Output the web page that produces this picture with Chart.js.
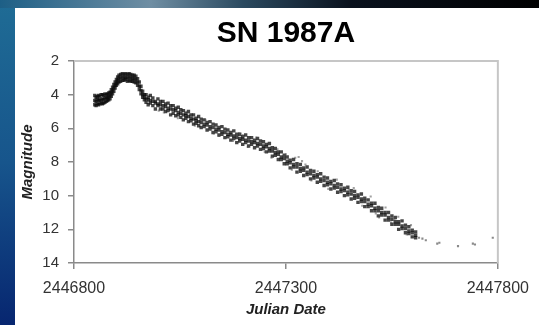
<!DOCTYPE html>
<html>
<head>
<meta charset="utf-8">
<title>SN 1987A</title>
<script src="https://cdn.jsdelivr.net/npm/chart.js@4.4.1/dist/chart.umd.min.js"></script>
<style>
    html, body { margin: 0; padding: 0; background: #0a2a6a; overflow: hidden; }
    #wrap { width: 539px; height: 325px; }
</style>
</head>
<body>
<div id="wrap"><canvas id="sn-chart" width="539" height="325"></canvas></div>
<script>
// Light curve of SN 1987A
var xTickValues = [2446800, 2447300, 2447800];

// main band: each epoch has an upper, middle and lower edge of the scatter
var epochJd = [
    2446849, 2446852, 2446855, 2446858, 2446861, 2446864, 2446867, 2446870, 2446873, 2446876,
    2446879, 2446882, 2446885, 2446888, 2446891, 2446894, 2446897, 2446900, 2446903, 2446906,
    2446910, 2446914, 2446918, 2446922, 2446926, 2446930, 2446934, 2446938, 2446942, 2446946,
    2446950, 2446954, 2446958, 2446962, 2446966, 2446970, 2446975, 2446980, 2446986, 2446992,
    2446998, 2447004, 2447010, 2447016, 2447022, 2447028, 2447034, 2447040, 2447046, 2447052,
    2447058, 2447064, 2447070, 2447076, 2447082, 2447088, 2447094, 2447100, 2447107, 2447114,
    2447121, 2447128, 2447135, 2447142, 2447149, 2447156, 2447163, 2447170, 2447177, 2447184,
    2447191, 2447198, 2447205, 2447212, 2447219, 2447226, 2447233, 2447240, 2447247, 2447254,
    2447261, 2447268, 2447275, 2447282, 2447289, 2447296, 2447303, 2447310, 2447318, 2447326,
    2447334, 2447342, 2447350, 2447358, 2447366, 2447374, 2447382, 2447390, 2447398, 2447406,
    2447414, 2447422, 2447430, 2447438, 2447446, 2447454, 2447462, 2447470, 2447478, 2447486,
    2447494, 2447502, 2447510, 2447518, 2447526, 2447534, 2447542, 2447550, 2447558, 2447566,
    2447574, 2447582, 2447590, 2447598, 2447606
];
var magBright = [
    4.05, 4.15, 4.1, 4.05, 4.1, 4.0, 4.0, 4.05, 3.95, 4.0,
    3.95, 3.9, 3.85, 3.7, 3.55, 3.4, 3.25, 3.1, 2.95, 2.85,
    2.8, 2.75, 2.8, 2.75, 2.8, 2.75, 2.8, 2.85, 2.85, 2.9,
    3.05, 3.25, 3.5, 3.8, 4.0, 4.0, 4.15, 4.05, 4.2, 4.4,
    4.25, 4.4, 4.4, 4.55, 4.5, 4.65, 4.65, 4.8, 4.75, 4.9,
    4.95, 5.1, 5.0, 5.2, 5.2, 5.4, 5.3, 5.45, 5.5, 5.65,
    5.6, 5.75, 5.8, 5.95, 5.9, 6.05, 6.1, 6.25, 6.15, 6.35,
    6.35, 6.5, 6.4, 6.55, 6.55, 6.7, 6.6, 6.75, 6.8, 6.95,
    6.9, 7.15, 7.2, 7.4, 7.4, 7.6, 7.7, 7.9, 7.85, 8.1,
    8.15, 8.35, 8.3, 8.5, 8.55, 8.75, 8.7, 8.9, 8.95, 9.15,
    9.1, 9.3, 9.35, 9.55, 9.5, 9.7, 9.75, 9.95, 9.9, 10.15,
    10.25, 10.45, 10.45, 10.7, 10.75, 11.0, 11.0, 11.2, 11.3, 11.55,
    11.5, 11.75, 11.85, 12.05, 12.15
];
var magMid = [
    4.35, 4.4, 4.3, 4.35, 4.3, 4.35, 4.25, 4.3, 4.2, 4.2,
    4.15, 4.1, 4.05, 3.9, 3.75, 3.6, 3.45, 3.3, 3.15, 3.05,
    3.0, 2.95, 3.0, 2.95, 3.0, 2.95, 3.0, 3.05, 3.05, 3.1,
    3.25, 3.5, 3.75, 4.0, 4.15, 4.25, 4.3, 4.35, 4.4, 4.5,
    4.55, 4.6, 4.65, 4.7, 4.8, 4.85, 4.9, 4.95, 5.05, 5.1,
    5.2, 5.25, 5.3, 5.4, 5.45, 5.55, 5.6, 5.65, 5.75, 5.8,
    5.9, 5.95, 6.05, 6.1, 6.2, 6.25, 6.35, 6.4, 6.45, 6.55,
    6.6, 6.65, 6.7, 6.75, 6.8, 6.85, 6.9, 6.95, 7.05, 7.1,
    7.2, 7.35, 7.45, 7.55, 7.7, 7.8, 7.95, 8.05, 8.15, 8.3,
    8.4, 8.5, 8.6, 8.7, 8.8, 8.9, 9.0, 9.1, 9.2, 9.3,
    9.4, 9.5, 9.6, 9.7, 9.8, 9.9, 10.0, 10.1, 10.2, 10.35,
    10.5, 10.6, 10.75, 10.9, 11.0, 11.15, 11.3, 11.4, 11.55, 11.7,
    11.8, 11.95, 12.1, 12.2, 12.35
];
var magFaint = [
    4.6, 4.65, 4.55, 4.6, 4.55, 4.5, 4.55, 4.5, 4.45, 4.4,
    4.35, 4.3, 4.25, 4.1, 3.95, 3.8, 3.6, 3.45, 3.35, 3.25,
    3.2, 3.15, 3.15, 3.1, 3.2, 3.15, 3.2, 3.2, 3.25, 3.3,
    3.45, 3.7, 3.95, 4.15, 4.3, 4.45, 4.6, 4.5, 4.65, 4.85,
    4.65, 4.85, 4.85, 5.0, 4.95, 5.2, 5.1, 5.25, 5.2, 5.35,
    5.5, 5.4, 5.6, 5.55, 5.75, 5.7, 5.85, 5.95, 5.9, 6.1,
    6.05, 6.25, 6.2, 6.4, 6.35, 6.55, 6.5, 6.7, 6.6, 6.85,
    6.75, 6.95, 6.85, 7.05, 6.95, 7.15, 7.05, 7.25, 7.2, 7.4,
    7.35, 7.65, 7.6, 7.85, 7.85, 8.1, 8.1, 8.35, 8.3, 8.6,
    8.55, 8.8, 8.75, 9.0, 8.95, 9.2, 9.15, 9.4, 9.35, 9.6,
    9.55, 9.8, 9.75, 10.0, 9.95, 10.2, 10.15, 10.4, 10.35, 10.65,
    10.65, 10.9, 10.9, 11.2, 11.15, 11.45, 11.45, 11.7, 11.7, 12.0,
    11.95, 12.2, 12.25, 12.45, 12.5
];

// loose points scattered around the band
var haloJd = [
    2446975, 2447000, 2447020, 2447045, 2447060, 2447085, 2447110, 2447130, 2447150, 2447175,
    2447190, 2447210, 2447230, 2447250, 2447266, 2447280, 2447322, 2447330, 2447338, 2447346,
    2447360, 2447375, 2447400, 2447420, 2447440, 2447460, 2447480, 2447500, 2447520, 2447535,
    2447556, 2447565, 2447585, 2447595, 2447012, 2447068, 2447142, 2447198, 2447244, 2447300,
    2447314, 2447392, 2447448, 2447512, 2447548
];
var haloMag = [
    4.6, 4.95, 4.5, 5.4, 4.95, 5.85, 5.5, 6.3, 5.9, 6.75,
    6.3, 7.1, 6.55, 7.4, 7.75, 7.25, 7.75, 7.7, 7.95, 8.15,
    9.1, 8.55, 9.6, 9.05, 10.0, 9.55, 10.6, 10.05, 11.3, 10.7,
    11.45, 11.25, 12.3, 11.75, 5.05, 5.05, 6.45, 6.4, 7.25, 7.55,
    8.45, 9.4, 9.65, 11.05, 11.6
];

// sparse late-time points
var tailJd = [2447614, 2447622, 2447630, 2447657, 2447662, 2447706, 2447741, 2447746, 2447788];
var tailMag = [12.5, 12.55, 12.65, 12.85, 12.8, 13.0, 12.85, 12.9, 12.5];

function toPoints(xs, ys) {
    return xs.map(function(x, i) { return { x: x, y: ys[i] }; });
}

var bandPoints = toPoints(epochJd, magBright)
    .concat(toPoints(epochJd, magMid))
    .concat(toPoints(epochJd, magFaint));

var FONT = '"Liberation Sans", Arial, sans-serif';

// dark slide background strips, white chart sheet and light plot frame
var backdrop = {
    id: 'backdrop',
    beforeDraw: function(chart) {
        var ctx = chart.ctx, w = chart.width, h = chart.height;
        ctx.save();
        var side = ctx.createLinearGradient(0, 0, 0, h);
        side.addColorStop(0, '#1f6c95');
        side.addColorStop(0.5, '#17558c');
        side.addColorStop(1, '#072670');
        ctx.fillStyle = side;
        ctx.fillRect(0, 0, 15, h);
        var top = ctx.createLinearGradient(0, 0, w, 0);
        top.addColorStop(0, '#1d5f86');
        top.addColorStop(0.28, '#6f8ea3');
        top.addColorStop(0.45, '#2b4a60');
        top.addColorStop(0.65, '#0a121e');
        top.addColorStop(1, '#000000');
        ctx.fillStyle = top;
        ctx.fillRect(0, 0, w, 8);
        ctx.fillStyle = '#ffffff';
        ctx.fillRect(15, 8, w - 15, h - 8);
        ctx.restore();
    },
    beforeDatasetsDraw: function(chart) {
        var a = chart.chartArea, ctx = chart.ctx;
        ctx.save();
        ctx.strokeStyle = '#c6c6c6';
        ctx.lineWidth = 2;
        ctx.beginPath();
        ctx.moveTo(a.left, a.top);
        ctx.lineTo(a.right, a.top);
        ctx.lineTo(a.right, a.bottom);
        ctx.stroke();
        ctx.restore();
    }
};

var ctx = document.getElementById('sn-chart').getContext('2d');

new Chart(ctx, {
    type: 'scatter',
    data: {
        datasets: [{
            label: 'halo',
            data: toPoints(haloJd, haloMag),
            pointStyle: 'rect',
            pointRadius: 1.5,
            backgroundColor: 'rgba(70, 70, 70, 0.5)',
            borderWidth: 0
        }, {
            label: 'band',
            data: bandPoints,
            pointStyle: 'rect',
            pointRadius: 2.4,
            backgroundColor: 'rgba(10, 10, 10, 0.75)',
            borderWidth: 0
        }, {
            label: 'tail',
            data: toPoints(tailJd, tailMag),
            pointStyle: 'rect',
            pointRadius: 1.5,
            backgroundColor: 'rgba(60, 60, 60, 0.6)',
            borderWidth: 0
        }]
    },
    options: {
        responsive: false,
        animation: false,
        layout: {
            padding: { left: 15, right: 38, top: 0, bottom: 0 }
        },
        plugins: {
            legend: { display: false },
            tooltip: { enabled: false },
            title: {
                display: true,
                text: 'SN 1987A',
                fullSize: false,
                color: '#000',
                font: { family: FONT, size: 30, weight: 'bold' },
                padding: { top: 16, bottom: 9 }
            }
        },
        scales: {
            x: {
                type: 'linear',
                min: 2446800,
                max: 2447800,
                afterBuildTicks: function(scale) {
                    scale.ticks = xTickValues.map(function(v) { return { value: v }; });
                },
                afterFit: function(scale) {
                    scale.height = 62;
                },
                ticks: {
                    color: '#333',
                    font: { family: FONT, size: 16 },
                    padding: 10,
                    maxRotation: 0,
                    autoSkip: false,
                    callback: function(value) {
                        return String(value);
                    }
                },
                grid: {
                    drawOnChartArea: false,
                    drawTicks: true,
                    tickLength: 6,
                    color: '#8a8a8a',
                    lineWidth: 1.5
                },
                border: { color: '#8a8a8a', width: 1.5 },
                title: {
                    display: true,
                    text: 'Julian Date',
                    color: '#222',
                    font: { family: FONT, size: 15, weight: 'bold', style: 'italic' },
                    padding: { top: 0, bottom: 6 }
                }
            },
            y: {
                type: 'linear',
                reverse: true,
                min: 2,
                max: 14,
                afterFit: function(scale) {
                    scale.width = 59;
                },
                ticks: {
                    stepSize: 2,
                    color: '#333',
                    font: { family: FONT, size: 15 },
                    padding: 9
                },
                grid: {
                    drawOnChartArea: false,
                    drawTicks: true,
                    tickLength: 6,
                    color: '#8a8a8a',
                    lineWidth: 1.5
                },
                border: { color: '#8a8a8a', width: 1.5 },
                title: {
                    display: true,
                    text: 'Magnitude',
                    color: '#222',
                    font: { family: FONT, size: 15, weight: 'bold', style: 'italic' },
                    padding: { top: 4, bottom: 0 }
                }
            }
        }
    },
    plugins: [backdrop]
});
</script>
</body>
</html>
